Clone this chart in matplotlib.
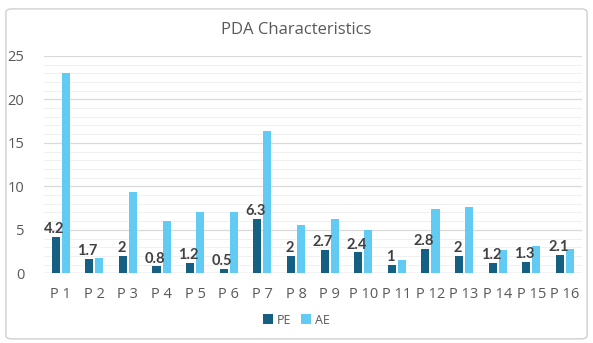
import matplotlib
matplotlib.use("Agg")
import matplotlib.pyplot as plt
import numpy as np
from matplotlib.patches import FancyBboxPatch

# PDA characteristics per participant
labels = ["P 1", "P 2", "P 3", "P 4", "P 5", "P 6", "P 7", "P 8",
          "P 9", "P 10", "P 11", "P 12", "P 13", "P 14", "P 15", "P 16"]
pe = [4.2, 1.7, 2, 0.8, 1.2, 0.5, 6.3, 2, 2.7, 2.4, 1, 2.8, 2, 1.2, 1.3, 2.1]
ae = [23.0, 1.8, 9.3, 6.0, 7.0, 7.1, 16.4, 5.6, 6.2, 5.0, 1.5, 7.4, 7.6, 2.7, 3.1, 2.8]

plt.rcParams['font.family'] = ['Open Sans', 'DejaVu Sans']

fig = plt.figure(figsize=(5.93, 3.43), dpi=100)
ax = fig.add_axes([0.074, 0.203, 0.907, 0.634])

# light frame around the whole chart
frame = FancyBboxPatch((0.01, 0.012), 0.98, 0.962, boxstyle="round,pad=0,rounding_size=0.01",
                       transform=fig.transFigure, facecolor="none",
                       edgecolor="#d0d0d0", linewidth=1.0)
fig.patches.append(frame)

x = np.arange(len(labels))
w = 0.24
bars_pe = ax.bar(x - 0.15, pe, w, color="#156082", label="PE", zorder=3)
bars_ae = ax.bar(x + 0.15, ae, w, color="#61CBF3", label="AE", zorder=3)

for b, v in zip(bars_pe, pe):
    ax.text(b.get_x() + b.get_width() / 2 - 0.05, v + 0.1, f"{v:g}",
            ha="center", va="bottom", fontsize=10.5, color="#404040",
            family=["Lato", "DejaVu Sans"], fontweight="bold", zorder=4)

ax.set_xlim(-0.5, len(labels) - 0.5)
ax.set_ylim(0, 25)
ax.set_yticks([0, 5, 10, 15, 20, 25])
ax.set_yticks(np.arange(0, 26, 1), minor=True)
ax.grid(axis="y", which="major", color="#d9d9d9", linewidth=0.9, zorder=0)
ax.grid(axis="y", which="minor", color="#f0f0f0", linewidth=0.7, zorder=0)
ax.set_xticks(x)
ax.set_xticklabels(labels)
ax.tick_params(axis="both", which="both", length=0, colors="#595959", labelsize=10.5)
ax.tick_params(axis="x", pad=10)
ax.tick_params(axis="y", pad=14)
for s in ax.spines.values():
    s.set_visible(False)
ax.axhline(0, color="#d9d9d9", linewidth=1.0, zorder=2)

fig.text(0.5, 0.912, "PDA Characteristics", ha="center", va="center",
         fontsize=12, color="#595959")

ax.legend(loc="center", bbox_to_anchor=(0.5, 0.067), bbox_transform=fig.transFigure,
          ncol=2, frameon=False, fontsize=9, handlelength=0.8, handleheight=0.8,
          handletextpad=0.3, columnspacing=0.8, labelcolor="#595959")

fig.savefig("out.png", dpi=100)
